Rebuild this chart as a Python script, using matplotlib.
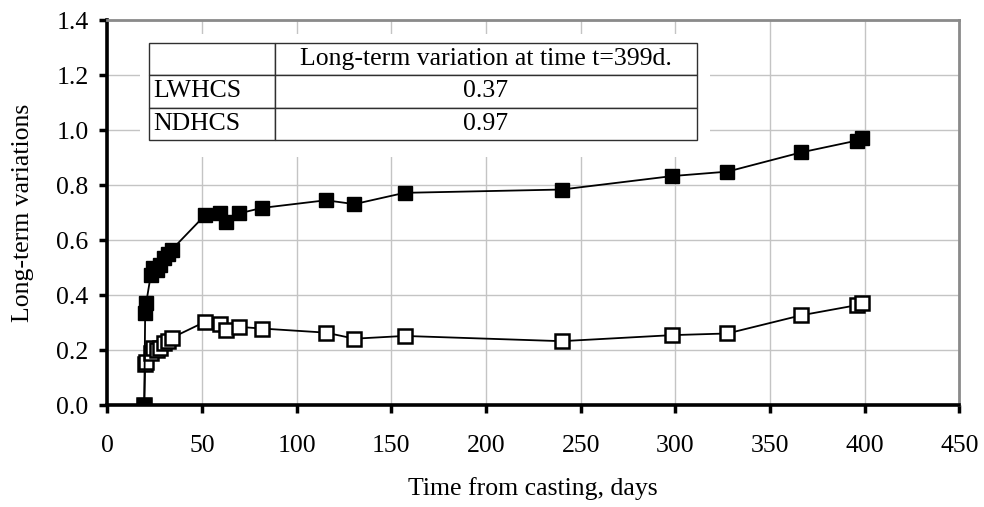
import numpy as np
import matplotlib
matplotlib.use("Agg")
from matplotlib import pyplot as plt
from matplotlib.patches import Rectangle

# data
days_nd = [19.5, 20, 20.5, 23, 24, 26.5, 28, 30, 32, 34, 51.5, 59.5, 62.5, 69.5, 81.5,
           115.5, 130.5, 157, 240, 298.5, 327.5, 366.5, 396, 398.5]
var_nd = [0.0, 0.335, 0.37, 0.475, 0.50, 0.49, 0.51, 0.535, 0.55, 0.565, 0.69, 0.70,
          0.667, 0.697, 0.717, 0.745, 0.731, 0.772, 0.784, 0.833, 0.849, 0.919, 0.962, 0.97]

days_lw = [19.5, 20, 20.5, 23, 24, 26.5, 28, 30, 32, 34, 51.5, 59.5, 62.5, 69.5, 81.5,
           115.5, 130.5, 157, 240, 298.5, 327.5, 366.5, 396, 398.5]
var_lw = [0.0, 0.15, 0.158, 0.19, 0.21, 0.20, 0.207, 0.225, 0.235, 0.245, 0.303, 0.294,
          0.273, 0.285, 0.279, 0.264, 0.242, 0.252, 0.233, 0.255, 0.261, 0.327, 0.364, 0.37]

col_header = ["", "Long-term variation at time t=399d."]
row_names = ["LWHCS", "NDHCS"]
row_values = ["0.37", "0.97"]

x_ticks = np.arange(0, 451, 50)
y_ticks = np.arange(0, 1.41, 0.2)

plt.rcParams['font.family'] = ['Liberation Serif', 'DejaVu Serif']
fs = 18.5

fig = plt.figure(figsize=(9.84, 5.07), dpi=100)
ax = fig.add_axes([107.3 / 984, 1 - 405.3 / 507, 852 / 984, 385.3 / 507])

ax.grid(True, color="#c4c4c4", linewidth=1.0, zorder=0)
ax.set_axisbelow(True)

# white box under the table hides the grid
ax.add_patch(Rectangle((0.0384, 0.6444), 0.669, 0.3193, transform=ax.transAxes,
                       facecolor="white", edgecolor="none", zorder=1))

ax.plot(days_lw, var_lw, color="black", linewidth=1.3, marker="s", markersize=9.5,
        markerfacecolor="white", markeredgecolor="black", markeredgewidth=1.8, zorder=3)
ax.plot(days_nd, var_nd, color="black", linewidth=1.3, marker="s", markersize=10.5,
        markerfacecolor="black", markeredgecolor="black", zorder=3.5)

ax.set_xlim(0, 450)
ax.set_ylim(0, 1.4)
ax.set_xticks(x_ticks)
ax.set_yticks(y_ticks)
ax.set_xticklabels([str(v) for v in x_ticks], fontsize=fs)
ax.set_yticklabels(["%.1f" % v for v in y_ticks], fontsize=fs)
ax.tick_params(axis="both", direction="out", length=5.5, width=2.5, color="black")
ax.tick_params(axis="x", pad=16)
ax.tick_params(axis="y", pad=8)

for s in ["left", "bottom"]:
    ax.spines[s].set_linewidth(2.6)
    ax.spines[s].set_color("black")
for s in ["top", "right"]:
    ax.spines[s].set_linewidth(2.0)
    ax.spines[s].set_color("#8a8a8a")

ax.set_xlabel("Time from casting, days", fontsize=fs, labelpad=14)
ax.set_ylabel("Long-term variations", fontsize=fs, labelpad=16)

cells = [[r, v] for r, v in zip(row_names, row_values)]
tab = ax.table(cellText=[col_header] + cells, bbox=[0.0484, 0.6885, 0.6436, 0.2531],
               colWidths=[0.2306, 0.7694], zorder=4)
tab.auto_set_font_size(False)
for (r, c), cell in tab.get_celld().items():
    cell.set_edgecolor("#303030")
    cell.set_linewidth(1.0)
    cell.set_facecolor("white")
    cell.get_text().set_fontsize(fs)
    if c == 0:
        cell.get_text().set_horizontalalignment("left")
        cell.PAD = 0.04
    else:
        cell.get_text().set_horizontalalignment("center")

fig.savefig("out.png", dpi=100)
